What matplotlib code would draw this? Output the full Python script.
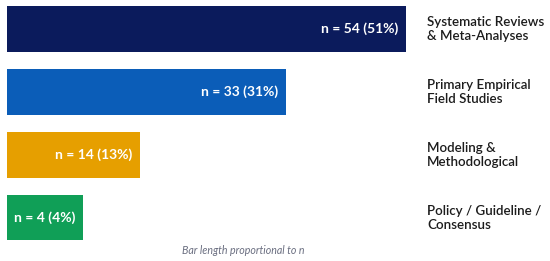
import matplotlib.pyplot as plt

# study categories (top to bottom)
categories = ["Systematic Reviews\n& Meta-Analyses",
              "Primary Empirical\nField Studies",
              "Modeling &\nMethodological",
              "Policy / Guideline /\nConsensus"]
counts = [54, 33, 14, 4]
shares = [51, 31, 13, 4]
# bar lengths as drawn, relative to the longest bar
bar_length = [100, 70, 33.4, 19.1]
colors = ["#0b1b5c", "#0b5db8", "#e69f00", "#109f57"]

W, H = 550, 261
fig = plt.figure(figsize=(W / 100, H / 100), dpi=100)
fig.patch.set_facecolor("white")
ax = fig.add_axes([0, 0, 1, 1])

# map: x=0 at 7px, x=100 at 405.7px; bar centres 29px .. 218px from top
px_per_unit = (405.7 - 7) / 100
x0, x1 = -7 / px_per_unit, (W - 7) / px_per_unit
step = (217.8 - 29) / 3
ax.set_xlim(x0, x1)
ax.set_ylim((H - 29) / step, -29 / step)
ax.axis("off")

ypos = list(range(len(categories)))
ax.barh(ypos, bar_length, height=0.72, color=colors, left=0)

pad = 7.5 / px_per_unit
label_x = (427 - 7) / px_per_unit
for y, n, s, L, cat in zip(ypos, counts, shares, bar_length, categories):
    ax.text(L - pad, y, f"n = {n} ({s}%)", ha="right", va="center",
            color="white", fontsize=10, fontweight="bold", family="Lato")
    ax.text(label_x, y, cat, ha="left", va="center", color="#1c1c1c",
            fontsize=9.6, fontweight="semibold", family="Lato", linespacing=1.2)

fig.text(243 / W, 1 - 250 / H, "Bar length proportional to n", ha="center",
         va="center", fontsize=7.7, style="italic", color="#6a6e80", family="Lato")

fig.savefig("out.png", dpi=100, facecolor="white")
